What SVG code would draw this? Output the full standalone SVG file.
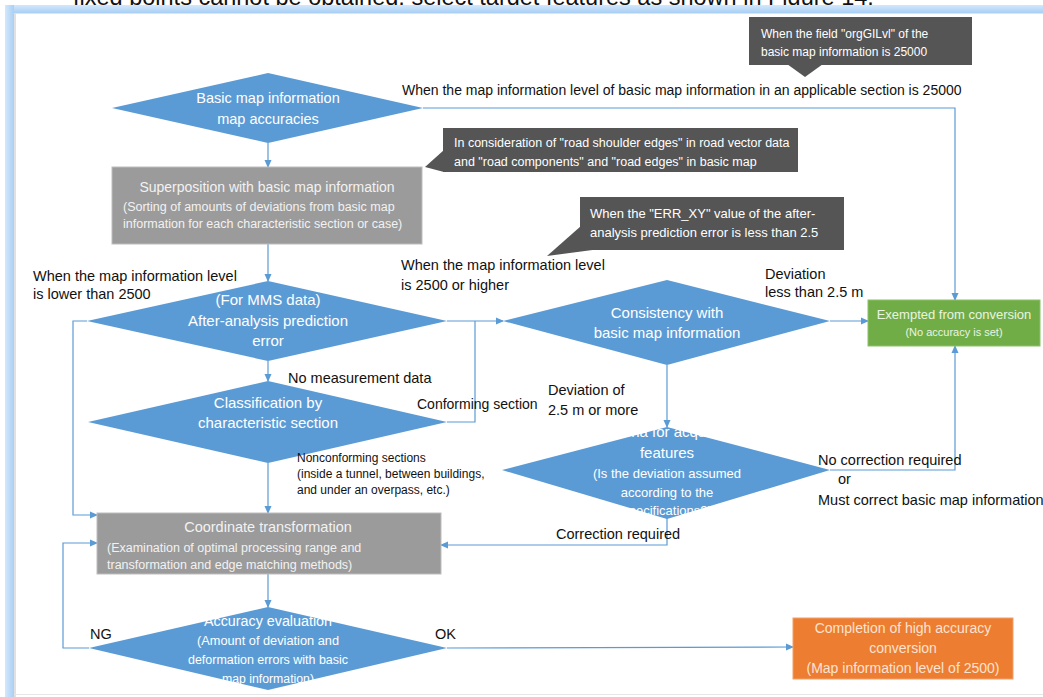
<svg xmlns="http://www.w3.org/2000/svg" width="1043" height="697" viewBox="0 0 1043 697">
<style>
.t{font-family:"Liberation Sans",Arial,sans-serif;}
.dia{fill:#5b9bd5;}
.box{fill:#9b9b9b;stroke:#bdbdbd;stroke-width:1;}
.call{fill:#555555;}
.w{fill:#ffffff;}
.g{fill:#f2f2f2;}
.k{fill:#111111;}
.edge{fill:none;stroke:#5b9bd5;stroke-width:1.2;}
.arr{marker-end:url(#ah);}
</style>
<defs>
<marker id="ah" markerWidth="8" markerHeight="8" refX="7" refY="4" orient="auto" markerUnits="userSpaceOnUse">
<path d="M0,0.5 L8,4 L0,7.5 z" fill="#5b9bd5"/>
</marker>
<linearGradient id="bandL" x1="0" y1="0" x2="1" y2="0">
<stop offset="0" stop-color="#d3e8fc"/>
<stop offset="1" stop-color="#a9cff5"/>
</linearGradient>
<linearGradient id="bandT" x1="0" y1="0" x2="0" y2="1">
<stop offset="0" stop-color="#d3e8fc"/>
<stop offset="1" stop-color="#a9cff5"/>
</linearGradient>
</defs>
<rect x="0" y="0" width="1043" height="697" fill="#ffffff"/>
<text class="t k" x="73" y="5" font-size="23.5">fixed points cannot be obtained, select target features as shown in Figure 14.</text>
<g id="frame">
<rect x="5" y="5" width="1038" height="8" fill="url(#bandT)"/>
<rect x="5" y="5" width="9" height="692" fill="url(#bandL)"/>
<line x1="14.5" y1="13.5" x2="1043" y2="13.5" stroke="#e3e3e3" stroke-width="1"/>
<line x1="15" y1="13" x2="15" y2="697" stroke="#e0e0e0" stroke-width="2"/>
<line x1="14" y1="694.5" x2="1043" y2="694.5" stroke="#e6e6e6" stroke-width="1"/>
</g>
<g id="connectors">
<polyline class="edge arr" points="423,108 955,108 955,300"/>
<line class="edge arr" x1="268" y1="143" x2="268" y2="167"/>
<line class="edge arr" x1="268" y1="244" x2="268" y2="281"/>
<line class="edge arr" x1="268" y1="361" x2="268" y2="381"/>
<line class="edge arr" x1="268" y1="463" x2="268" y2="513"/>
<polyline class="edge arr" points="87,321 73,321 73,515 97,515"/>
<line class="edge arr" x1="447" y1="321" x2="503" y2="321"/>
<polyline class="edge" points="447,422 475,422 475,321"/>
<line class="edge arr" x1="830" y1="321" x2="868" y2="321"/>
<line class="edge arr" x1="667" y1="365" x2="667" y2="427"/>
<polyline class="edge arr" points="830,470 955,470 955,346"/>
<polyline class="edge arr" points="667,517 667,545 441,545"/>
<line class="edge arr" x1="268" y1="574" x2="268" y2="607"/>
<polyline class="edge arr" points="89,648 63,648 63,543 97,543"/>
<line class="edge arr" x1="447" y1="648" x2="793" y2="647"/>
</g>
<g id="callout-orgGILvl">
<rect class="call" x="749" y="17" width="223" height="48"/>
<polygon class="call" points="787,64 805,77 823,64"/>
<text class="t" fill="#ffffff" font-size="12" x="761" y="38">When the field "orgGILvl" of the</text>
<text class="t" fill="#ffffff" font-size="12" x="761" y="56">basic map information is 25000</text>
</g>
<g id="callout-road">
<rect class="call" x="443" y="128" width="355" height="44"/>
<polygon class="call" points="444,150 425,167 444,172"/>
<text class="t" fill="#ffffff" font-size="12.5" x="454" y="147">In consideration of "road shoulder edges" in road vector data</text>
<text class="t" fill="#ffffff" font-size="12.5" x="454" y="166">and "road components" and "road edges" in basic map</text>
</g>
<g id="callout-err">
<rect class="call" x="580" y="197" width="264" height="53"/>
<polygon class="call" points="581,226 547,256 600,249"/>
<text class="t" fill="#ffffff" font-size="13" x="590" y="218">When the "ERR_XY" value of the after-</text>
<text class="t" fill="#ffffff" font-size="13" x="590" y="237">analysis prediction error is less than 2.5</text>
</g>
<g id="basic-map-accuracies">
<polygon class="dia" points="112,108 268,73 423,108 268,143"/>
<text class="t w" font-size="14.5" text-anchor="middle" x="268" y="103">Basic map information</text>
<text class="t w" font-size="14.5" text-anchor="middle" x="268" y="124">map accuracies</text>
</g>
<g id="superposition">
<rect class="box" x="112" y="167" width="310" height="77"/>
<text class="t g" font-size="14" text-anchor="middle" x="267" y="192">Superposition with basic map information</text>
<text class="t g" font-size="12.5" x="123" y="211">(Sorting of amounts of deviations from basic map</text>
<text class="t g" font-size="12.5" x="123" y="228">information for each characteristic section or case)</text>
</g>
<g id="prediction-error">
<polygon class="dia" points="87,321 268,281 447,321 268,361"/>
<text class="t w" font-size="15" text-anchor="middle" x="268" y="305">(For MMS data)</text>
<text class="t w" font-size="15" text-anchor="middle" x="268" y="326">After-analysis prediction</text>
<text class="t w" font-size="15" text-anchor="middle" x="268" y="346">error</text>
</g>
<g id="consistency">
<polygon class="dia" points="503,321 667,280 830,321 667,365"/>
<text class="t w" font-size="15" text-anchor="middle" x="667" y="318">Consistency with</text>
<text class="t w" font-size="15" text-anchor="middle" x="667" y="338">basic map information</text>
</g>
<g id="exempted">
<rect x="868" y="300" width="172" height="46" fill="#70ad47" stroke="#8cc06a" stroke-width="1"/>
<text class="t" fill="#eaf4e2" font-size="13" text-anchor="middle" x="954" y="319">Exempted from conversion</text>
<text class="t" fill="#eaf4e2" font-size="11" text-anchor="middle" x="954" y="336">(No accuracy is set)</text>
</g>
<g id="classification">
<polygon class="dia" points="88,422 268,381 447,422 268,463"/>
<text class="t w" font-size="15" text-anchor="middle" x="268" y="408">Classification by</text>
<text class="t w" font-size="15" text-anchor="middle" x="268" y="428">characteristic section</text>
</g>
<g id="criteria">
<polygon class="dia" points="502,470 667,427 830,470 667,519"/>
<text class="t w" font-size="15" text-anchor="middle" x="667" y="437">Criteria for acquiring</text>
<text class="t w" font-size="15" text-anchor="middle" x="667" y="458">features</text>
<text class="t w" font-size="13" text-anchor="middle" x="667" y="478">(Is the deviation assumed</text>
<text class="t w" font-size="13" text-anchor="middle" x="667" y="497">according to the</text>
<text class="t w" font-size="13" text-anchor="middle" x="667" y="515">specifications?)</text>
</g>
<g id="coordinate-transformation">
<rect class="box" x="97" y="513" width="344" height="61"/>
<text class="t g" font-size="14.5" text-anchor="middle" x="268" y="532">Coordinate transformation</text>
<text class="t g" font-size="12.5" x="107" y="552">(Examination of optimal processing range and</text>
<text class="t g" font-size="12.5" x="107" y="569">transformation and edge matching methods)</text>
</g>
<g id="accuracy-evaluation">
<polygon class="dia" points="89,648 268,607 447,648 268,690"/>
<text class="t w" font-size="14" text-anchor="middle" x="268" y="626" textLength="128" lengthAdjust="spacingAndGlyphs">Accuracy evaluation</text>
<text class="t w" font-size="12.5" text-anchor="middle" x="268" y="645" textLength="142" lengthAdjust="spacingAndGlyphs">(Amount of deviation and</text>
<text class="t w" font-size="12.5" text-anchor="middle" x="268" y="664" textLength="160" lengthAdjust="spacingAndGlyphs">deformation errors with basic</text>
<text class="t w" font-size="12.5" text-anchor="middle" x="268" y="683" textLength="92" lengthAdjust="spacingAndGlyphs">map information)</text>
</g>
<g id="completion">
<rect x="793" y="618" width="220" height="61" fill="#ed7d31" stroke="#f3a06a" stroke-width="1"/>
<text class="t" fill="#fbe3d2" font-size="14" text-anchor="middle" x="903" y="633">Completion of high accuracy</text>
<text class="t" fill="#fbe3d2" font-size="14" text-anchor="middle" x="903" y="653">conversion</text>
<text class="t" fill="#fbe3d2" font-size="14" text-anchor="middle" x="903" y="673">(Map information level of 2500)</text>
</g>
<g id="labels">
<text class="t k" font-size="14" x="402" y="95">When the map information level of basic map information in an applicable section is 25000</text>
<text class="t k" font-size="14.5" x="33" y="281">When the map information level</text>
<text class="t k" font-size="14.5" x="33" y="299">is lower than 2500</text>
<text class="t k" font-size="14.5" x="401" y="270">When the map information level</text>
<text class="t k" font-size="14.5" x="401" y="290">is 2500 or higher</text>
<text class="t k" font-size="14.5" x="288" y="383">No measurement data</text>
<text class="t k" font-size="14" x="417" y="409">Conforming section</text>
<text class="t k" font-size="14.5" x="765" y="279">Deviation</text>
<text class="t k" font-size="14.5" x="765" y="297">less than 2.5 m</text>
<text class="t k" font-size="14.5" x="548" y="395">Deviation of</text>
<text class="t k" font-size="14.5" x="548" y="415">2.5 m or more</text>
<text class="t k" font-size="12" x="297" y="462">Nonconforming sections</text>
<text class="t k" font-size="12" x="297" y="478">(inside a tunnel, between buildings,</text>
<text class="t k" font-size="12" x="297" y="494">and under an overpass, etc.)</text>
<text class="t k" font-size="14.5" x="818" y="465">No correction required</text>
<text class="t k" font-size="14.5" x="838" y="484">or</text>
<text class="t k" font-size="14.5" x="818" y="505">Must correct basic map information</text>
<text class="t k" font-size="14.5" x="556" y="539">Correction required</text>
<text class="t k" font-size="14.5" x="90" y="639">NG</text>
<text class="t k" font-size="14.5" x="435" y="639">OK</text>
</g>
</svg>
